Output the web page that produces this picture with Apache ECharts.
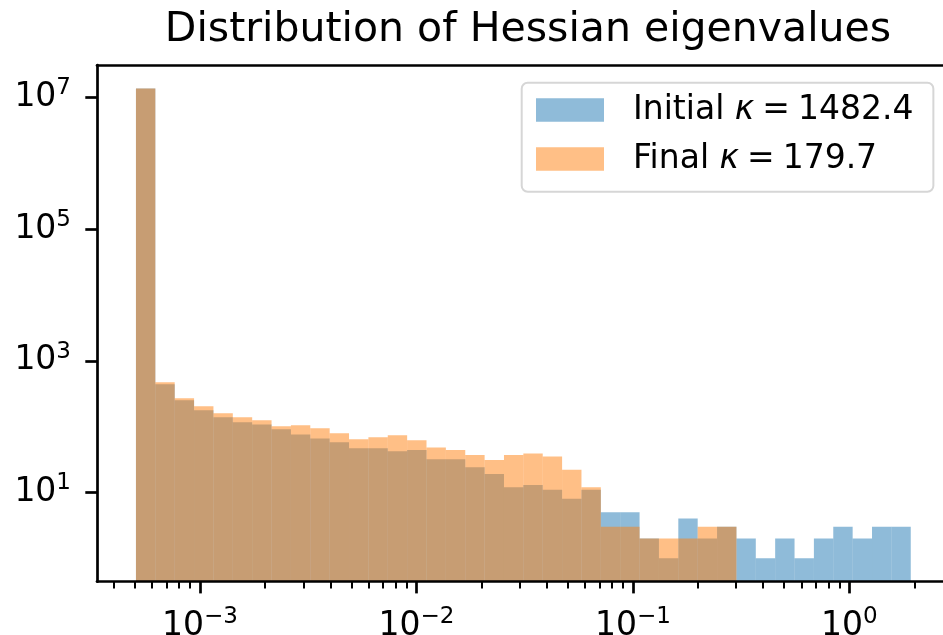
<!DOCTYPE html>
<html><head><meta charset="utf-8">
<script src="https://cdn.jsdelivr.net/npm/echarts@6/dist/echarts.min.js"></script>
<style>html,body{margin:0;padding:0;background:#fff}#c{width:943px;height:635px}</style>
</head><body><div id="c"></div>
<script>
// ---- data ----
const titleText = 'Distribution of Hessian eigenvalues';
const seriesNames = ['Initial κ = 1482.4', 'Final κ = 179.7'];
// histogram counts per log-spaced bin (40 bins)
const initialCounts = [1.37e7, 439, 251, 177, 138, 116, 108, 91, 76, 66, 58, 47, 47, 42, 44, 32, 32, 24, 19, 12,
  13, 11, 8, 11, 5, 5, 2, 1, 4, 2, 3, 2, 1, 2, 1, 2, 3, 2, 3, 3];
const finalCounts = [1.37e7, 470, 269, 203, 159, 138, 125, 101, 105, 94, 79, 64, 69, 74, 62, 48, 44, 37, 31, 37,
  39, 35, 22, 12, 3, 3, 2, 2, 2, 3, 3, 0, 0, 0, 0, 0, 0, 0, 0, 0];
// bin range (log10 of eigenvalue) and count of equal log-width bins
const binLogMin = -3.296, binLogMax = 0.284, binCount = 40;
// tick labels (exponents)
const xMajorTicks = [-3, -2, -1, 0];
const yMajorTicks = [1, 3, 5, 7];
// visible axis ranges in log10 units (plot is cut at the right edge of the picture)
const xLogRange = [-3.476, 0.433];
const yLogRange = [-0.357, 7.494];

// ---- build ----
const FONT = 'DejaVu Sans';
const binW = (binLogMax - binLogMin) / binCount;
function histData(counts) {
  const out = [];
  counts.forEach((c, i) => {
    if (c > 0) out.push([binLogMin + i * binW, binLogMin + (i + 1) * binW, Math.log10(c)]);
  });
  return out;
}
const xMinorTicks = [];
for (let n = -4; n <= 0; n++) for (let k = 2; k <= 9; k++) {
  const v = n + Math.log10(k);
  if (v > xLogRange[0] && v < xLogRange[1]) xMinorTicks.push(v);
}
function sup(v) { return '{b|10}{s|' + (v < 0 ? '\u2212' + (-v) : String(v)) + '}'; }
const supRich = {
  b: { fontFamily: FONT, fontSize: 33, color: '#000', lineHeight: 33, verticalAlign: 'bottom' },
  s: { fontFamily: FONT, fontSize: 23, color: '#000', lineHeight: 23, verticalAlign: 'bottom', padding: [0, 0, 14, 0] }
};
function renderItem(params, api) {
  const p0 = api.coord([api.value(0), yLogRange[0]]);
  const p1 = api.coord([api.value(1), api.value(2)]);
  return { type: 'rect', shape: { x: p0[0], y: p1[1], width: p1[0] - p0[0], height: p0[1] - p1[1] },
    style: { fill: api.visual('color') } };
}
const spine = { show: true, onZero: false, lineStyle: { color: '#000', width: 2.7 } };
const chart = echarts.init(document.getElementById('c'), null, { renderer: 'canvas' });
chart.setOption({
  animation: false,
  title: { text: titleText, left: 523, textAlign: 'center', top: 5,
    textStyle: { fontFamily: FONT, fontSize: 41, fontWeight: 'normal', color: '#000' } },
  grid: { left: 97, top: 65, right: 0, height: 516.7, show: false, containLabel: false, outerBoundsMode: 'none' },
  legend: {
    orient: 'vertical', left: 521.7, top: 82.7, padding: [10.8, 20, 16.2, 14.3],
    itemWidth: 68, itemHeight: 23.4, itemGap: 16, icon: 'rect',
    backgroundColor: '#fff', borderColor: '#d6d6d6', borderWidth: 2, borderRadius: 6,
    data: seriesNames,
    formatter: name => {
      const parts = name.split('κ');
      return '{n0|' + parts[0] + '}{k|κ}{e|=}{n|' + parts[1].replace('=', '').trim() + '}';
    },
    textStyle: { fontFamily: FONT, fontSize: 33, color: '#000',
      rich: {
        n0: { fontFamily: FONT, fontSize: 33, color: '#000', padding: [0, 0, 0, 24] },
        k: { fontFamily: FONT, fontSize: 33, fontStyle: 'italic', color: '#000' },
        e: { fontFamily: FONT, fontSize: 33, color: '#000', padding: [0, 8, 0, 8] },
        n: { fontFamily: FONT, fontSize: 33, color: '#000' }
      } }
  },
  xAxis: [
    { type: 'value', min: xLogRange[0], max: xLogRange[1], position: 'bottom', z: 5,
      axisLine: spine,
      axisTick: { show: true, customValues: xMajorTicks, length: 11.7, lineStyle: { color: '#000', width: 2.7 } },
      axisLabel: { show: true, customValues: xMajorTicks, margin: 28, formatter: v => sup(v), rich: supRich },
      splitLine: { show: false } },
    { type: 'value', min: xLogRange[0], max: xLogRange[1], position: 'bottom', z: 5,
      axisLine: { show: false, onZero: false },
      axisTick: { show: true, customValues: xMinorTicks, length: 6.7, lineStyle: { color: '#000', width: 2 } },
      axisLabel: { show: false }, splitLine: { show: false } },
    { type: 'value', min: xLogRange[0], max: xLogRange[1], position: 'top', z: 5,
      axisLine: spine, axisTick: { show: false }, axisLabel: { show: false }, splitLine: { show: false } }
  ],
  yAxis: { type: 'value', min: yLogRange[0], max: yLogRange[1], z: 5,
    axisLine: spine,
    axisTick: { show: true, customValues: yMajorTicks, length: 11.7, lineStyle: { color: '#000', width: 2.7 } },
    axisLabel: { show: true, customValues: yMajorTicks, margin: 26, formatter: v => sup(v), rich: supRich },
    splitLine: { show: false } },
  series: [
    { name: seriesNames[0], type: 'custom', renderItem, clip: true, xAxisIndex: 0,
      itemStyle: { color: 'rgba(31,119,180,0.5)' }, encode: { x: [0, 1], y: 2 }, data: histData(initialCounts) },
    { name: seriesNames[1], type: 'custom', renderItem, clip: true, xAxisIndex: 0,
      itemStyle: { color: 'rgba(255,127,14,0.5)' }, encode: { x: [0, 1], y: 2 }, data: histData(finalCounts) }
  ]
});
</script></body></html>
